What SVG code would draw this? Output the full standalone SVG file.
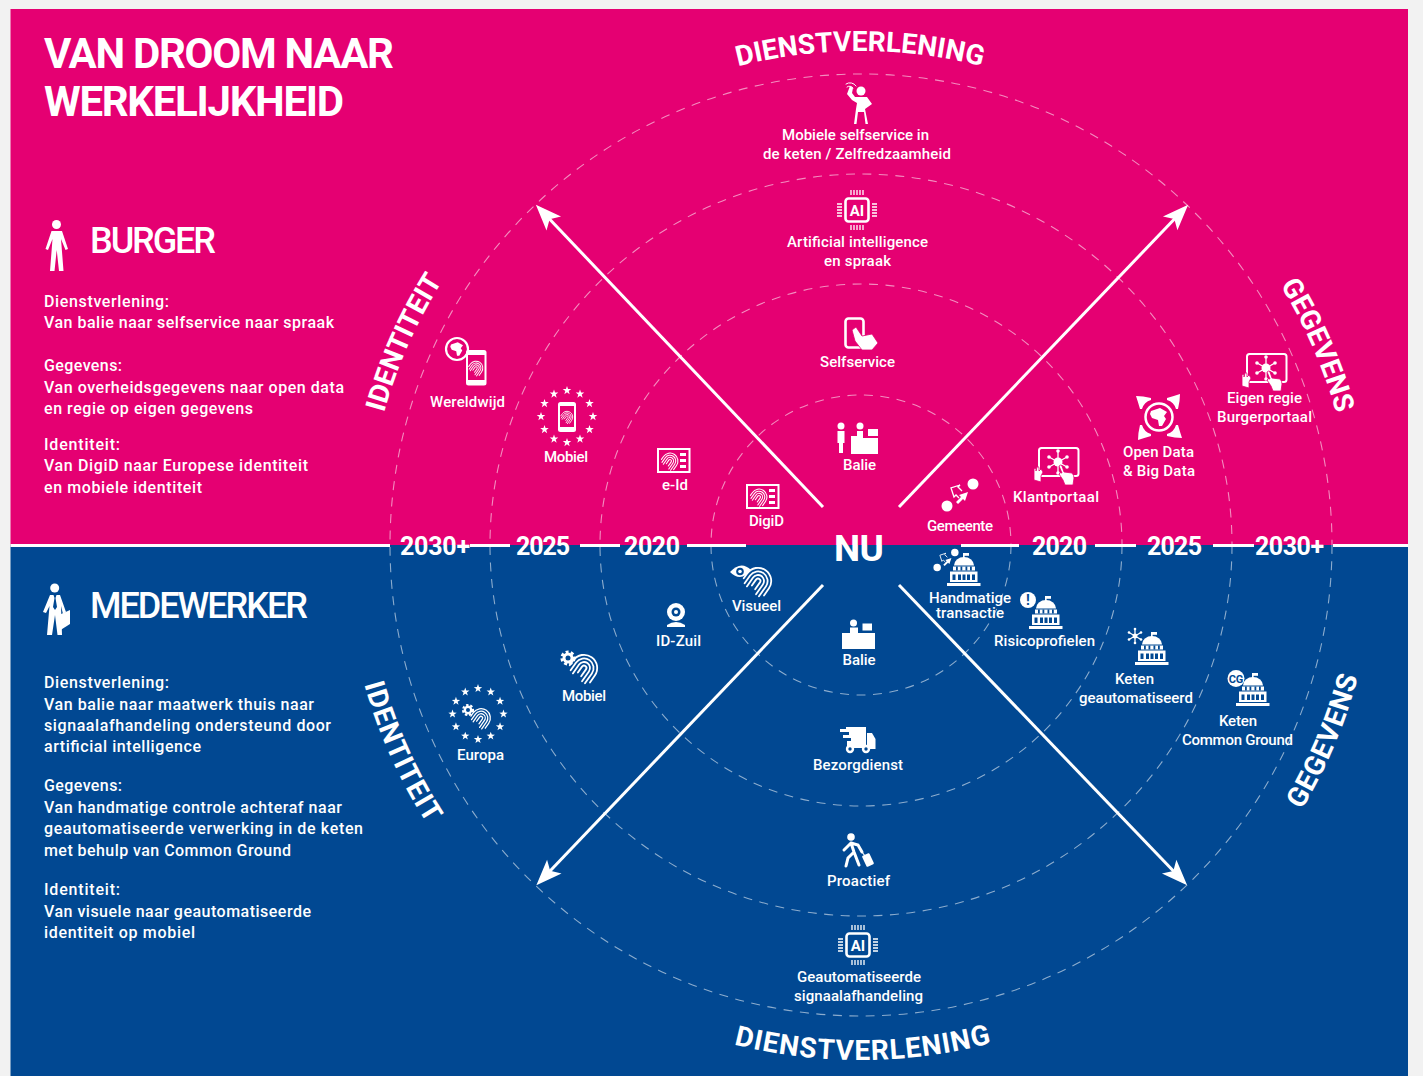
<svg xmlns="http://www.w3.org/2000/svg" width="1423" height="1076" viewBox="0 0 1423 1076">
<style>
text{font-family:Roboto,"Noto Sans",sans-serif;fill:#fff}
.l{font-size:15px;font-weight:500}
.b{font-size:16px;font-weight:500;transform:translateY(.5px)}
.y{font-size:25px;font-weight:700}
.h{font-size:36px;font-weight:500}
.t{font-size:42px;font-weight:700}
.c{font-size:28px;font-weight:700}
.w{fill:#fff}
.ring{fill:none;stroke:#fff;stroke-opacity:.55;stroke-width:1.1;stroke-dasharray:9 7.5}
.sep{stroke:#fff;stroke-width:3}
.arr{stroke:#fff;stroke-width:3;fill:none;marker-end:url(#head)}
.fp{fill:none;stroke:#fff;stroke-width:1.5;stroke-linecap:round}
.ln{fill:none;stroke:#fff;stroke-linecap:round}
.pk{fill:#e50072}
.bl{fill:#014892}
.hand{fill:#fff;stroke:#e50072;stroke-width:.8}
</style>
<defs>
<marker id="head" markerUnits="userSpaceOnUse" markerWidth="32" markerHeight="24" viewBox="0 -12 32 24" refX="24" refY="0" orient="auto">
<path d="M30,0 L4,-10 L10,0 L4,10Z" fill="#fff"/>
</marker>
<path id="a1" d="M366,545 A494,494 0 0 1 1354,545"/>
<path id="a2" d="M345,545 A515,515 0 0 0 1375,545"/>
<g id="fpr" transform="rotate(35)">
<path class="fp" d="M-2,6V0A2,2 0 0 1 2,0V7M-5,9V0A5,5 0 0 1 5,0V10M-8,8V0A8,8 0 0 1 8,0V10M-11,5V0A11,11 0 0 1 11,0V7"/>
</g>
<polygon id="star" class="w" points="0,-4.5 1.06,-1.46 4.28,-1.39 1.71,.56 2.65,3.64 0,1.8 -2.65,3.64 -1.71,.56 -4.28,-1.39 -1.06,-1.46"/>
<g id="stars">
<use href="#star" x="0" y="-26"/><use href="#star" x="13" y="-22.5"/><use href="#star" x="22.5" y="-13"/><use href="#star" x="26" y="0"/><use href="#star" x="22.5" y="13"/><use href="#star" x="13" y="22.5"/><use href="#star" x="0" y="26"/><use href="#star" x="-13" y="22.5"/><use href="#star" x="-22.5" y="13"/><use href="#star" x="-26" y="0"/><use href="#star" x="-22.5" y="-13"/><use href="#star" x="-13" y="-22.5"/>
</g>
<g id="chip">
<rect x="-11.5" y="-11.5" width="23" height="23" rx="3" fill="none" stroke="#fff" stroke-width="2.6"/>
<path d="M-6,-20V-15M-3,-20V-15M0,-20V-15M3,-20V-15M6,-20V-15M-6,15V20M-3,15V20M0,15V20M3,15V20M6,15V20M-20,-6H-15M-20,-3H-15M-20,0H-15M-20,3H-15M-20,6H-15M15,-6H20M15,-3H20M15,0H20M15,3H20M15,6H20" stroke="#fff" stroke-width="1.3" fill="none"/>
</g>
<g id="card">
<rect x="1" y="1" width="31.5" height="23" fill="none" stroke="#fff" stroke-width="2"/>
<use href="#fpr" transform="translate(13,13) scale(.72)"/>
<path d="M23,6.5h6M23,12.5h6M23,18.5h6" stroke="#fff" stroke-width="2.8"/>
</g>
<g id="bldg">
<rect class="w" x="16" y="0" width="1.6" height="6"/><rect class="w" x="16" y="0" width="6" height="2.8"/>
<path class="w" d="M7,12.5A10,8.5 0 0 1 27,12.5Z"/>
<rect class="w" x="6" y="13.5" width="22" height="4"/>
<path class="bl" d="M9,13.5h1.8v4h-1.8zM13.5,13.5h1.8v4h-1.8zM18.5,13.5h1.8v4h-1.8zM23,13.5h1.8v4h-1.8z"/>
<rect class="w" x="3" y="18.5" width="27.5" height="10.5"/>
<path class="bl" d="M5.5,21.5h3v5.5h-3zM11,21.5h3v5.5h-3zM15.5,21.5h3v5.5h-3zM20,21.5h3v5.5h-3zM25,21.5h3v5.5h-3z"/>
<rect class="w" x="0" y="30" width="33.5" height="3"/>
</g>
<g id="tablet">
<rect x="1" y="1" width="39.5" height="28" rx="2.5" fill="none" stroke="#fff" stroke-width="2"/>
<g transform="translate(20,15)">
<path d="M-9,-5L9,5M-9,5L9,-5M0,-11V11" stroke="#fff" stroke-width="1.3"/>
<circle class="w" r="4.5"/>
<circle class="w" cx="-9" cy="-5" r="1.8"/><circle class="w" cx="9" cy="5" r="1.8"/><circle class="w" cx="-9" cy="5" r="1.8"/><circle class="w" cx="9" cy="-5" r="1.8"/><circle class="w" cx="0" cy="-11" r="1.8"/><circle class="w" cx="0" cy="11" r="1.8"/>
</g>
<path class="hand" d="M-4,33V22q1,-2 2,0v2l1,-4q2,-1 2,1l0,3l2,-2l2,3l-2,4v6z"/>
<path class="hand" d="M21,19q2,-2 3,0l2,6l8,1q2,2 2,5l-1,7h-8l-2,-5l-4,-6q1,-2 3,-1z"/>
</g>
<g id="xfer">
<circle class="w" cx="-13" cy="11" r="5.5"/><circle class="w" cx="13" cy="-11" r="5.5"/>
<path class="w" d="M-4,7L1,2L-1,0L8,-3L5,6L3,4L-2,9Z"/>
<path d="M3,-3L-1,-7L1,-9L-8,-6L-5,3L-3,1L0,4" fill="none" stroke="#fff" stroke-width="1.3" transform="translate(-1,-1)"/>
</g>
<g id="gear">
<circle class="w" r="5.5"/>
<circle r="6.3" fill="none" stroke="#fff" stroke-width="2.6" stroke-dasharray="3 2.3"/>
<circle class="bl" r="2.5"/>
</g>
<g id="land">
<path class="w" d="M-8,-6L1,-9L8,-5L5,-1L7,2L3,9L0,9L-1,3L-7,1L-9,-3Z"/>
</g>
</defs>

<g id="background">
<rect width="1423" height="1076" fill="#f2f2f2"/>
<rect x="10.5" y="9" width="1397.5" height="536" class="pk"/>
<rect x="10.5" y="545" width="1397.5" height="531" class="bl"/>
</g>

<g id="rings">
<circle class="ring" cx="861" cy="545" r="150"/>
<circle class="ring" cx="861" cy="545" r="261"/>
<circle class="ring" cx="861" cy="545" r="371"/>
<circle class="ring" cx="861" cy="545" r="471"/>
</g>

<g id="connectors">
<path class="sep" d="M10.5,545.5H390M470,545.5H510M580,545.5H620M687,545.5H746M961,545.5H1019M1095,545.5H1136M1213,545.5H1254M1333,545.5H1408"/>
<line class="arr" x1="823" y1="507" x2="540" y2="209"/>
<line class="arr" x1="899" y1="507" x2="1184" y2="209"/>
<line class="arr" x1="823" y1="585" x2="540.5" y2="881"/>
<line class="arr" x1="899" y1="585" x2="1183" y2="881"/>
</g>

<g id="title">
<text class="t" x="44" y="68" textLength="350">VAN DROOM NAAR</text>
<text class="t" x="44" y="116" textLength="300">WERKELIJKHEID</text>
</g>

<g id="axes">
<text class="c" text-anchor="middle"><textPath href="#a1" startOffset="50%">DIENSTVERLENING</textPath></text>
<text class="c" text-anchor="middle"><textPath href="#a1" startOffset="13.3%">IDENTITEIT</textPath></text>
<text class="c" text-anchor="middle"><textPath href="#a1" startOffset="86.9%">GEGEVENS</textPath></text>
<text class="c" text-anchor="middle" letter-spacing="1"><textPath href="#a2" startOffset="50.2%">DIENSTVERLENING</textPath></text>
<text class="c" text-anchor="middle" letter-spacing="1"><textPath href="#a2" startOffset="13.5%">IDENTITEIT</textPath></text>
<text class="c" text-anchor="middle" letter-spacing=".6"><textPath href="#a2" startOffset="87.3%">GEGEVENS</textPath></text>
</g>

<g id="years">
<text class="y" x="400" y="554.5" textLength="70">2030+</text>
<text class="y" x="516" y="554.5" textLength="54">2025</text>
<text class="y" x="624" y="554.5" textLength="56">2020</text>
<text class="y" x="1032" y="554.5" textLength="55">2020</text>
<text class="y" x="1147" y="554.5" textLength="55">2025</text>
<text class="y" x="1255" y="554.5" textLength="69">2030+</text>
</g>

<g id="nu"><text x="834" y="560.5" font-size="37" font-weight="700" textLength="50">NU</text></g>

<g id="burger">
<circle class="w" cx="56.5" cy="224.5" r="4.5"/>
<path class="w" d="M51.5,231H62L68,249L65.5,250L61,239L63.5,271H59L56.7,250L54.5,271H50L52.5,239L48,250L45.5,249Z"/>
<text class="h" x="90" y="253" textLength="126">BURGER</text>
<text class="b" x="44" y="306.5" textLength="125">Dienstverlening:</text>
<text class="b" x="44" y="327.5" textLength="290">Van balie naar selfservice naar spraak</text>
<text class="b" x="44" y="370.5" textLength="78">Gegevens:</text>
<text class="b" x="44" y="392" textLength="300">Van overheidsgegevens naar open data</text>
<text class="b" x="44" y="413.5" textLength="209">en regie op eigen gegevens</text>
<text class="b" x="44" y="449" textLength="76">Identiteit:</text>
<text class="b" x="44" y="470.5" textLength="264">Van DigiD naar Europese identiteit</text>
<text class="b" x="44" y="492" textLength="158">en mobiele identiteit</text>
</g>

<g id="medewerker">
<circle class="w" cx="54.7" cy="588" r="4.5"/>
<path class="w" d="M50,595H60L66,612L63,614L61,606L62,635H57.5L55,615L52,635H47L49.5,606L46,613L43,612Z"/>
<path class="bl" d="M53.5,595h3l-1,3l1.5,9l-2,3l-2,-3l1.5,-9z"/>
<path class="w" d="M59,615L70,610V624L59,631Z"/>
<text class="h" x="90" y="618" textLength="218">MEDEWERKER</text>
<text class="b" x="44" y="687" textLength="125">Dienstverlening:</text>
<text class="b" x="44" y="709" textLength="270">Van balie naar maatwerk thuis naar</text>
<text class="b" x="44" y="730" textLength="287">signaalafhandeling ondersteund door</text>
<text class="b" x="44" y="751.5" textLength="157">artificial intelligence</text>
<text class="b" x="44" y="790.5" textLength="78">Gegevens:</text>
<text class="b" x="44" y="812" textLength="298">Van handmatige controle achteraf naar</text>
<text class="b" x="44" y="833.5" textLength="319">geautomatiseerde verwerking in de keten</text>
<text class="b" x="44" y="855" textLength="247">met behulp van Common Ground</text>
<text class="b" x="44" y="894.5" textLength="76">Identiteit:</text>
<text class="b" x="44" y="916" textLength="267">Van visuele naar geautomatiseerde</text>
<text class="b" x="44" y="937.5" textLength="151">identiteit op mobiel</text>
</g>

<g id="n-mobiele-selfservice">
<circle class="w" cx="861" cy="91" r="4.5"/>
<path class="w" d="M855,97H867L872,104L865,109L868,124H865.5L864,112H858L856.5,124H854L856,109L857,103L852,100L847,94L850,86L853,88L852,93Z"/>
<path class="ln" stroke-width="1" d="M847,87A4,4 0 0 1 853,88M846,84A7,7 0 0 1 856,86"/>
<text class="l" x="782" y="140" textLength="147">Mobiele selfservice in</text>
<text class="l" x="763" y="159" textLength="188">de keten / Zelfredzaamheid</text>
</g>

<g id="n-ai">
<use href="#chip" x="857" y="210"/>
<text x="857" y="215.5" font-size="15" font-weight="700" text-anchor="middle">AI</text>
<text class="l" x="787" y="247" textLength="141">Artificial intelligence</text>
<text class="l" x="824" y="266" textLength="67">en spraak</text>
</g>

<g id="n-selfservice">
<rect x="845.5" y="318.5" width="18" height="29" rx="3" fill="none" stroke="#fff" stroke-width="2.6"/>
<path class="hand" d="M852,330L856,327L862,336L872,334L878,343L872,350H862L855,341Z"/>
<text class="l" x="820" y="367" textLength="75">Selfservice</text>
</g>

<g id="n-balie-burger">
<circle class="w" cx="841" cy="426" r="3.5"/>
<path class="w" d="M837.5,431H844.5V443H843V453H839V443H837.5Z"/>
<circle class="w" cx="860" cy="426" r="3.5"/>
<path class="w" d="M851,436H857V431H863V438H878V454H851Z"/>
<rect class="w" x="868" y="429" width="10" height="7"/>
<text class="l" x="843" y="470" textLength="33">Balie</text>
</g>

<g id="n-digid">
<use href="#card" x="746" y="484"/>
<text class="l" x="749" y="526" textLength="35">DigiD</text>
</g>

<g id="n-gemeente">
<use href="#xfer" x="960" y="495"/>
<text class="l" x="927" y="531" textLength="66">Gemeente</text>
</g>

<g id="n-klantportaal">
<use href="#tablet" x="1038" y="447"/>
<text class="l" x="1013" y="502" textLength="86">Klantportaal</text>
</g>

<g id="n-opendata">
<circle cx="1159" cy="417" r="13.5" fill="none" stroke="#fff" stroke-width="2.5"/>
<use href="#land" x="1159" y="417"/>
<g transform="translate(1159,417)">
<path id="cnr" class="w" d="M-23,-21Q-16,-21 -8,-19L-8,-17Q-15,-15 -17,-8L-19,-8Q-21,-15 -23,-21Z"/>
<use href="#cnr" transform="rotate(90)"/><use href="#cnr" transform="rotate(180)"/><use href="#cnr" transform="rotate(270)"/>
</g>
<text class="l" x="1123" y="457" textLength="71">Open Data</text>
<text class="l" x="1123" y="476" textLength="72">&amp; Big Data</text>
</g>

<g id="n-eigen-regie">
<use href="#tablet" x="1246" y="353"/>
<text class="l" x="1227" y="403" textLength="75">Eigen regie</text>
<text class="l" x="1217" y="422" textLength="95">Burgerportaal</text>
</g>

<g id="n-wereldwijd">
<circle cx="457" cy="349" r="11" fill="none" stroke="#fff" stroke-width="2.2"/>
<use href="#land" transform="translate(457,349) scale(.75)"/>
<rect x="466" y="350" width="20.5" height="35.5" rx="2.5" fill="#fff"/>
<rect x="468" y="355" width="16.5" height="25" class="pk"/>
<use href="#fpr" transform="translate(476,368) scale(.62)"/>
<text class="l" x="430" y="407" textLength="75">Wereldwijd</text>
</g>

<g id="n-mobiel-burger">
<use href="#stars" x="567" y="416.5"/>
<rect x="558" y="402" width="18" height="30" rx="2.5" fill="#fff"/>
<rect x="560" y="406" width="14" height="21" class="pk"/>
<use href="#fpr" transform="translate(567,417) scale(.52)"/>
<text class="l" x="544" y="462" textLength="44">Mobiel</text>
</g>

<g id="n-eid">
<use href="#card" x="657" y="448"/>
<text class="l" x="662" y="490" textLength="26">e-Id</text>
</g>

<g id="n-visueel">
<path class="w" d="M730,572Q741,560 751,570Q741,583 730,572Z"/>
<circle class="bl" cx="740" cy="571.5" r="3.8"/><circle class="w" cx="740" cy="571.5" r="1.8"/>
<use href="#fpr" transform="translate(758,581) scale(1.2)"/>
<text class="l" x="732" y="611" textLength="49">Visueel</text>
</g>

<g id="n-idzuil">
<circle class="w" cx="676" cy="612" r="9"/>
<circle class="bl" cx="676" cy="612" r="4.5"/><circle class="w" cx="676" cy="612" r="2"/>
<path class="w" d="M667,625Q676,619 685,625V627H667Z"/>
<text class="l" x="656" y="646" textLength="45">ID-Zuil</text>
</g>

<g id="n-mobiel-medewerker">
<use href="#gear" x="568" y="658"/>
<use href="#fpr" transform="translate(584,668) scale(1.2)"/>
<text class="l" x="562" y="701" textLength="44">Mobiel</text>
</g>

<g id="n-europa">
<use href="#stars" transform="translate(478,714) scale(.98)"/>
<use href="#gear" transform="translate(468,710) scale(.8)"/>
<use href="#fpr" transform="translate(481,718) scale(.85)"/>
<text class="l" x="457" y="760" textLength="47">Europa</text>
</g>

<g id="n-balie-medewerker">
<circle class="w" cx="853.5" cy="623" r="3.5"/>
<path class="w" d="M842,633H850V627.5H858V633H875V649H842Z"/>
<rect class="w" x="862.5" y="623.5" width="9.5" height="7"/>
<text class="l" x="842.5" y="665" textLength="33">Balie</text>
</g>

<g id="n-bezorgdienst">
<path class="w" d="M846,727H866V748H847V741H851V738H843V735H849V732H840V729H846Z"/>
<path class="w" d="M867,733H872L875.5,739V749H867Z"/>
<circle class="w" cx="850" cy="749" r="4.2"/><circle class="bl" cx="850" cy="749" r="1.7"/>
<circle class="w" cx="866" cy="749" r="4.2"/><circle class="bl" cx="866" cy="749" r="1.7"/>
<text class="l" x="813" y="770" textLength="90">Bezorgdienst</text>
</g>

<g id="n-proactief">
<circle class="w" cx="851" cy="837" r="3.8"/>
<path class="ln" stroke-width="3" d="M851,843L854,852L859,865M854,852L848,858L846,866M851,843L844,850M851,843L858,845L862,852"/>
<g transform="translate(868,860) rotate(-25)"><rect class="w" x="-4" y="-6" width="8" height="12" rx="1"/></g>
<path class="ln" stroke-width="1.2" d="M862,852L865,856"/>
<text class="l" x="827" y="886" textLength="63">Proactief</text>
</g>

<g id="n-signaal">
<use href="#chip" x="858" y="945"/>
<text x="858" y="950.5" font-size="15" font-weight="700" text-anchor="middle">AI</text>
<text class="l" x="797" y="982" textLength="124">Geautomatiseerde</text>
<text class="l" x="794" y="1001" textLength="129">signaalafhandeling</text>
</g>

<g id="n-handmatig">
<use href="#xfer" transform="translate(946,560) scale(.68)"/>
<use href="#bldg" x="947" y="553"/>
<text class="l" x="929" y="603" textLength="82">Handmatige</text>
<text class="l" x="936" y="618" textLength="68">transactie</text>
</g>

<g id="n-risico">
<circle class="w" cx="1028" cy="600" r="8"/>
<text x="1028" y="605" font-size="14" font-weight="700" text-anchor="middle" style="fill:#014892">!</text>
<use href="#bldg" x="1029" y="596"/>
<text class="l" x="994" y="646" textLength="101">Risicoprofielen</text>
</g>

<g id="n-keten-auto">
<path class="ln" stroke-width="1.3" d="M1135,629V643M1129,632.5L1141,639.5M1129,639.5L1141,632.5"/>
<circle class="w" cx="1135" cy="636" r="2.5"/>
<circle class="w" cx="1135" cy="629" r="1.3"/><circle class="w" cx="1135" cy="643" r="1.3"/><circle class="w" cx="1129" cy="632.5" r="1.3"/><circle class="w" cx="1141" cy="639.5" r="1.3"/><circle class="w" cx="1129" cy="639.5" r="1.3"/><circle class="w" cx="1141" cy="632.5" r="1.3"/>
<use href="#bldg" x="1135" y="632"/>
<text class="l" x="1115" y="684" textLength="39">Keten</text>
<text class="l" x="1079" y="703" textLength="114">geautomatiseerd</text>
</g>

<g id="n-keten-cg">
<circle class="w" cx="1236" cy="678.5" r="8.5"/>
<text x="1236" y="682.5" font-size="11" font-weight="700" text-anchor="middle" style="fill:#014892">CG</text>
<use href="#bldg" x="1236" y="673"/>
<text class="l" x="1219" y="726" textLength="38">Keten</text>
<text class="l" x="1182" y="745" textLength="111">Common Ground</text>
</g>
</svg>
